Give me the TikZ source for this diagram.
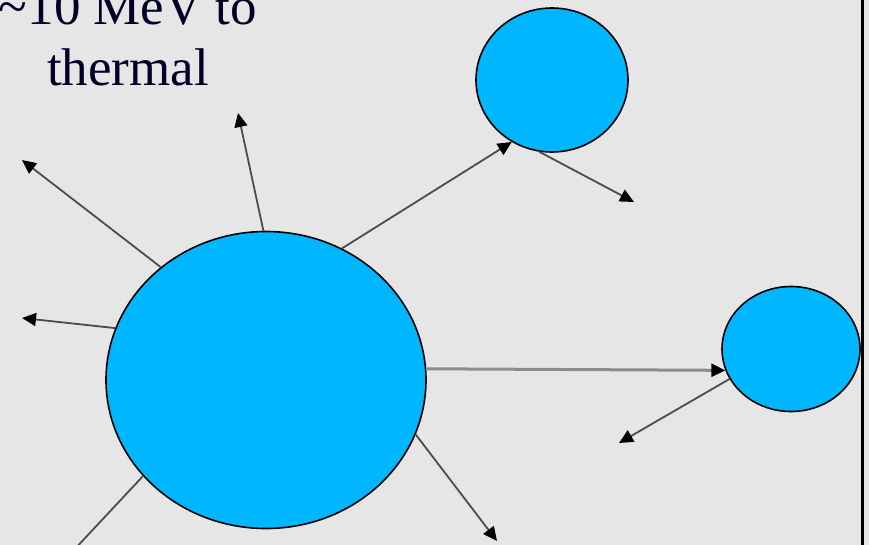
\documentclass[tikz,border=0pt]{standalone}
\usepackage{fontspec}
\setmainfont{Liberation Serif}
\usetikzlibrary{shapes.geometric, arrows.meta}

\definecolor{ballblue}{RGB}{0,182,255}
\definecolor{panelgray}{RGB}{230,230,230}

\begin{document}
\begin{tikzpicture}[x=1pt,y=-1pt,
    ball/.style={ellipse, draw=black, line width=1.6pt, fill=ballblue, inner sep=0pt},
    ray/.style={draw=black!70, line width=1.8pt, -{Triangle[length=14pt,width=13pt,color=black]}}]
        \useasboundingbox (0,0) rectangle (869,545);
        \fill[panelgray] (0,0) rectangle (869,545);

        \begin{scope}
        \clip (0,0) rectangle (869,545);

        \node[ball, minimum width=320, minimum height=297] (big) at (266,380) {};
        \node[ball, minimum width=152, minimum height=144] (top) at (552,80) {};
        \node[ball, minimum width=138, minimum height=125] (right) at (791,349) {};

        \node[font=\fontsize{53}{61}\selectfont, align=center, inner sep=0pt, text=black!85!blue]
            (energy) at (128,38) {\textasciitilde 10 MeV to\\thermal};

        % free ends of the rays
        \coordinate (n1) at (238,113);
        \coordinate (n2) at (22,160);
        \coordinate (n3) at (22,318);
        \coordinate (n4) at (58,567);
        \coordinate (n5) at (497,541);
        \coordinate (n7) at (634,202);
        \coordinate (n9) at (619,443);

        \draw[ray] (big.91) -- (n1);
        \draw[ray] (big.133) -- (n2);
        \draw[ray] (big.161) -- (n3);
        \draw[ray] (big.218) -- (n4);
        \draw[ray] (big.340) -- (n5);
        \draw[ray] (big.60) -- (top.237);
        \draw[ray] (top.260) -- (n7);
        \draw[ray, draw=black!45, line width=3pt] (big.4) -- (right.198);
        \draw[ray] (right.206) -- (n9);
        \end{scope}

        \draw[line width=3pt] (862,0) -- (862,545);
      \end{tikzpicture}
\end{document}
